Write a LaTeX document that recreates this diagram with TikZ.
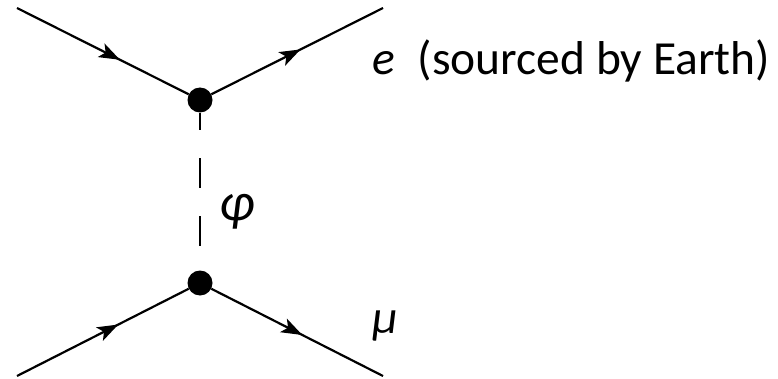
\RequirePackage{fix-cm}
\documentclass[tikz,border=0pt]{standalone}
\usepackage{fontspec}
\setmainfont{Carlito}
\usetikzlibrary{arrows.meta,decorations.markings}
\tikzset{
  fline/.style={line width=2.2pt, postaction={decorate},
    decoration={markings, mark=at position #1 with {\arrow{Stealth[length=21pt,width=15pt,inset=5pt]}}}},
  vertex/.style={circle, fill=black, inner sep=0pt, minimum size=25pt},
  scalarline/.style={line width=2.2pt, dash pattern=on 30pt off 28pt, dash phase=12.7pt},
  lab/.style={inner sep=0pt, anchor=base west, font=\fontsize{47.5}{57}\selectfont}
}
\begin{document}
\begin{tikzpicture}[x=1pt,y=1pt]
\useasboundingbox (0,0) rectangle (778,378);
\node[vertex] (v1) at (200,278) {};
\node[vertex] (v2) at (200,95) {};
\coordinate (a) at (17,370);
\coordinate (b) at (383,370);
\coordinate (c) at (17,2);
\coordinate (d) at (383,2);
\draw[fline=0.60] (a) -- (v1);
\draw[fline=0.52] (v1) -- (b);
\draw[fline=0.59] (c) -- (v2);
\draw[fline=0.53] (v2) -- (d);
\draw[scalarline] (v1) -- (v2);
\node[lab] (elabel) at (372,303) {\itshape e\hspace{23pt}\upshape(sourced by Earth)};
\node[lab, font=\fontsize{54}{60}\selectfont] (philabel) at (219,158) {\itshape φ};
\node[lab] (mulabel) at (372,45) {\itshape μ};
\end{tikzpicture}
\end{document}
